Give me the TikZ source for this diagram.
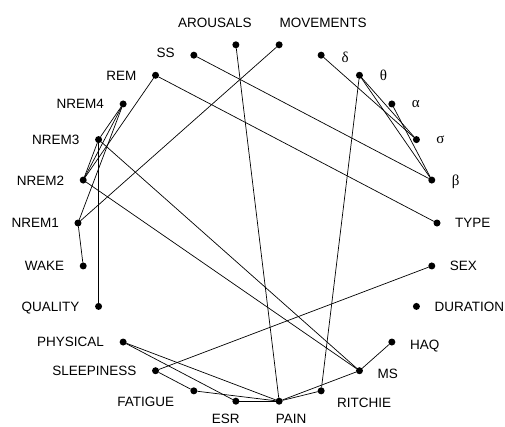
\documentclass[tikz,border=0pt]{standalone}
\usepackage{fontspec}
\setmainfont{Liberation Sans}
\newfontfamily\grk{Liberation Serif}
\usetikzlibrary{calc}
\tikzset{
    var/.style={circle,fill=black,inner sep=0pt,outer sep=0pt,minimum size=7pt},
    vname/.style={font=\fontsize{13.5}{14}\selectfont,inner sep=0pt,text height=9.7pt,text depth=0pt},
    gname/.style={font=\fontsize{15}{16}\grk,inner sep=0pt},
    link/.style={black,line width=0.7pt}
}

\begin{document}
\begin{tikzpicture}[x=1pt,y=1pt]
\useasboundingbox (-257.5,-203) rectangle (247.5,223);
% variables on the circle
\foreach \v [count=\i from 0] in {arousals,movements,delta,theta,alpha,sigma,beta,type,sex,duration,haq,ms,ritchie,pain,esr,fatigue,sleepiness,physical,quality,wake,nremone,nremtwo,nremthree,nremfour,rem,ss}
    \node[var] (\v) at ({90+180/26-\i*360/26}:179.5) {};

% labels
\node[vname] (arousals-l) at ($(arousals)+(-21,22)$) {AROUSALS};
\node[vname] (movements-l) at ($(movements)+(44,22)$) {MOVEMENTS};
\foreach \v/\t/\dy in {ss/SS/3,rem/REM/0,nremfour/NREM4/0,nremthree/NREM3/0,nremtwo/NREM2/-1,nremone/NREM1/0,wake/WAKE/0,quality/QUALITY/0,physical/PHYSICAL/0,sleepiness/SLEEPINESS/0}
    \node[vname,anchor=east] (\v-l) at ($(\v)+(-19,\dy)$) {\t};
\foreach \v/\t/\dy in {type/TYPE/0,sex/SEX/0,duration/DURATION/0,haq/HAQ/-3,ms/MS/-3}
    \node[vname,anchor=west] (\v-l) at ($(\v)+(18,\dy)$) {\t};
\node[vname] (fatigue-l) at ($(fatigue)+(-48,-11)$) {FATIGUE};
\node[vname] (esr-l) at ($(esr)+(-10,-17.5)$) {ESR};
\node[vname] (pain-l) at ($(pain)+(12,-17.5)$) {PAIN};
\node[vname] (ritchie-l) at ($(ritchie)+(43,-12)$) {RITCHIE};
\foreach \v/\t/\dy in {delta/δ/-2,theta/θ/0,alpha/α/0,sigma/σ/0,beta/β/-2}
    \node[gname] (\v-l) at ($(\v)+(24,\dy)$) {\t};

% edges
\foreach \a/\b in {arousals/pain,movements/nremone,ss/beta,rem/type,rem/nremtwo,
    delta/sigma,theta/sigma,theta/beta,alpha/beta,theta/ritchie,sex/sleepiness,
    haq/ms,ms/pain,ritchie/pain,ms/nremthree,ms/nremtwo,physical/pain,physical/esr,
    sleepiness/fatigue,fatigue/pain,esr/pain,nremone/wake,nremthree/quality,
    nremfour/nremthree,nremfour/nremtwo,nremfour/nremone,nremthree/nremtwo}
    \draw[link] (\a) -- (\b);
\end{tikzpicture}
\end{document}
